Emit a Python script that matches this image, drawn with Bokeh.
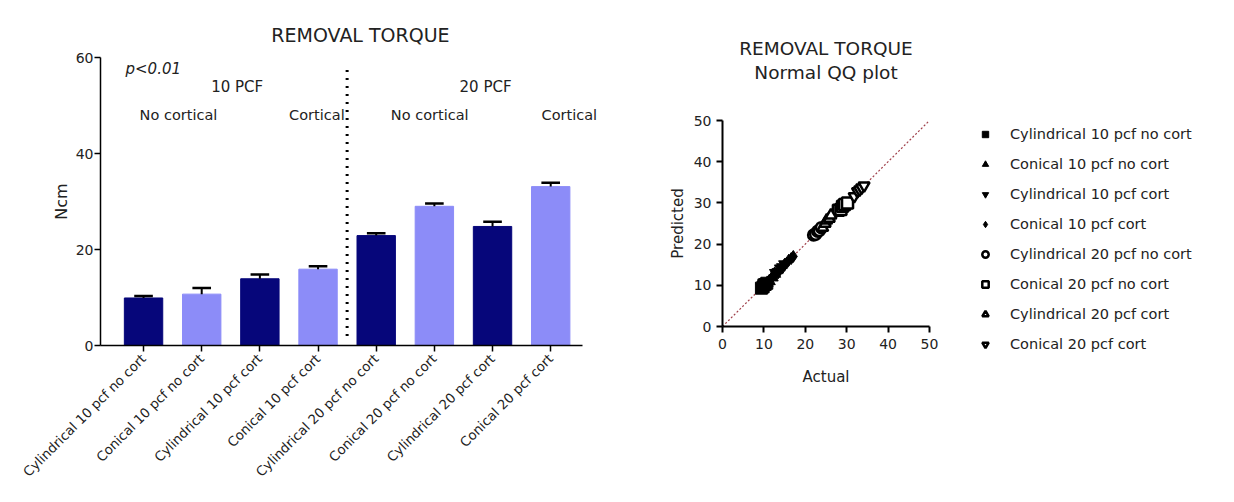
import math
from bokeh.plotting import figure
from bokeh.layouts import row, column
from bokeh.models import Range1d, FixedTicker, Legend, LegendItem, ColumnDataSource, Title
from bokeh.core.properties import value
from bokeh.embed import file_html
from bokeh.resources import INLINE

FONT = "DejaVu Sans"
TXT = "#222222"

# ---------------- data ----------------
groups = ["Cylindrical 10 pcf no cort", "Conical 10 pcf no cort", "Cylindrical 10 pcf cort",
          "Conical 10 pcf cort", "Cylindrical 20 pcf no cort", "Conical 20 pcf no cort",
          "Cylindrical 20 pcf cort", "Conical 20 pcf cort"]
means = [9.9, 10.7, 13.9, 15.9, 22.9, 29.0, 24.8, 33.1]
err_top = [10.3, 12.0, 14.8, 16.5, 23.4, 29.6, 25.8, 33.9]
bar_colors = ["#06067a", "#8c8cf8"] * 4

# QQ plot data (actual, predicted) per group
qq_actual = [
    [9.4, 9.8, 10.0, 10.3, 10.7],
    [10.2, 10.8, 11.3, 12.0, 12.6],
    [12.8, 13.4, 14.0, 14.5, 15.0],
    [15.0, 15.5, 16.0, 16.6, 17.1],
    [22.0, 22.5, 23.0, 23.4, 23.9],
    [28.0, 28.6, 29.0, 29.5, 30.2],
    [24.2, 24.8, 25.2, 25.8, 26.2],
    [31.8, 32.6, 33.1, 33.6, 34.2],
]
qq_pred = [
    [9.3, 9.6, 10.1, 10.2, 10.5],
    [10.0, 10.6, 11.0, 11.9, 12.8],
    [13.0, 13.2, 14.1, 14.4, 15.1],
    [15.1, 15.4, 16.1, 16.5, 17.0],
    [22.2, 22.4, 23.1, 23.3, 24.0],
    [28.2, 28.4, 29.2, 29.6, 30.0],
    [24.0, 25.0, 25.8, 26.2, 27.0],
    [31.6, 32.8, 33.2, 33.7, 34.2],
]
qq_markers = ["square", "triangle", "inverted_triangle", "diamond",
              "circle", "square", "triangle", "inverted_triangle"]
qq_filled = [True, True, True, True, False, False, False, False]

# annotation texts
chart_title = "REMOVAL TORQUE"
qq_subtitle = "Normal QQ plot"
group_labels = ["10 PCF", "20 PCF"]
group_label_x = [2.61, 6.88]
sub_labels = ["No cortical", "Cortical", "No cortical", "Cortical"]
sub_label_x = [1.6, 3.98, 5.92, 8.32]

# ---------------- left: bar chart ----------------
xs = list(range(1, len(groups) + 1))
p1 = figure(width=620, height=500, output_backend="svg", toolbar_location=None,
            x_range=Range1d(0.26, 9.2), y_range=Range1d(0, 60),
            min_border_left=100, min_border_right=0,
            min_border_top=57, min_border_bottom=155)
p1.outline_line_color = None
p1.grid.visible = False
p1.add_layout(Title(text=chart_title, align="center", text_font=FONT, text_font_size="19px",
                    text_font_style="normal", text_color=TXT, standoff=24), "above")

src = ColumnDataSource(dict(x=xs, top=means, color=bar_colors, err=err_top))
p1.vbar(x="x", top="top", width=0.66, fill_color="color", line_color="color", source=src)
p1.segment(x0="x", y0="top", x1="x", y1="err", line_color="black", line_width=2, source=src)
p1.segment(x0=[x - 0.16 for x in xs], y0=err_top, x1=[x + 0.16 for x in xs], y1=err_top,
           line_color="black", line_width=2.5)
# divider
p1.segment(x0=[4.5], y0=[2.0], x1=[4.5], y1=[58.5], line_color="black",
           line_width=3, line_dash="2 6")

p1.text(x=[0.69], y=[57.6], text=["p<0.01"], text_font=value(FONT), text_font_size="15px",
        text_font_style="italic", text_color=TXT, text_align="left", text_baseline="middle")
p1.text(x=group_label_x, y=[53.8] * 2, text=group_labels, text_font=value(FONT),
        text_font_size="15px", text_color=TXT, text_align="center", text_baseline="middle")
p1.text(x=sub_label_x, y=[48.0] * 4, text=sub_labels, text_font=value(FONT),
        text_font_size="14.5px", text_color=TXT, text_align="center", text_baseline="middle")

p1.xaxis.ticker = FixedTicker(ticks=xs)
p1.xaxis.major_label_overrides = {x: g for x, g in zip(xs, groups)}
p1.xaxis.major_label_orientation = math.pi / 4
p1.xaxis.bounds = (0.26, 8.55)
p1.yaxis.ticker = FixedTicker(ticks=[0, 20, 40, 60])
p1.yaxis.axis_label = "Ncm"
for ax in (p1.xaxis[0], p1.yaxis[0]):
    ax.axis_line_color = "black"
    ax.axis_line_width = 1.5
    ax.major_tick_line_color = "black"
    ax.major_tick_line_width = 1.5
    ax.major_tick_in = 0
    ax.major_tick_out = 6
    ax.minor_tick_line_color = None
    ax.major_label_text_font = FONT
    ax.major_label_text_font_size = "14px"
    ax.major_label_text_color = TXT
    ax.axis_label_text_font = FONT
    ax.axis_label_text_font_size = "16px"
    ax.axis_label_text_font_style = "normal"
    ax.axis_label_text_color = TXT
p1.xaxis.major_label_text_font_size = "13.3px"
p1.yaxis.major_label_standoff = 1
p1.yaxis.axis_label_standoff = 2

# ---------------- right: QQ plot ----------------
p2 = figure(width=612, height=500, output_backend="svg", toolbar_location=None,
            x_range=Range1d(-19.81, 123.19), y_range=Range1d(-17.96, 79.13),
            min_border_left=20, min_border_right=0,
            min_border_top=0, min_border_bottom=100)
p2.outline_line_color = None
p2.grid.visible = False

p2.text(x=[25, 25], y=[67.48, 61.65], text=[chart_title, qq_subtitle], text_font=value(FONT),
        text_font_size="18.5px", text_color=TXT, text_align="center", text_baseline="middle")

p2.line(x=[0, 50], y=[0, 50], line_color="#a0404a", line_width=1.2, line_dash="2 2")

items = []
for g, ax_, pr_, mk, filled in zip(groups, qq_actual, qq_pred, qq_markers, qq_filled):
    r = p2.scatter(x=ax_, y=pr_, marker=mk, size=12 if filled else 11,
                   fill_color="black" if filled else "white",
                   fill_alpha=1.0, line_color="black", line_width=2.5 if not filled else 1)
    items.append(LegendItem(label=g, renderers=[r]))

legend = Legend(items=items, location=(337, 48), orientation="vertical",
                label_text_font=FONT, label_text_font_size="14.5px", label_text_color=TXT,
                border_line_color=None, background_fill_alpha=0,
                glyph_width=16, glyph_height=16, label_height=16, spacing=14,
                label_standoff=17, margin=0, padding=0)
p2.add_layout(legend, "center")

p2.xaxis.ticker = FixedTicker(ticks=[0, 10, 20, 30, 40, 50])
p2.yaxis.ticker = FixedTicker(ticks=[0, 10, 20, 30, 40, 50])
p2.xaxis.bounds = (0, 50)
p2.yaxis.bounds = (0, 50)
p2.xaxis.fixed_location = 0
p2.yaxis.fixed_location = 0
p2.xaxis.axis_label = "Actual"
p2.yaxis.axis_label = "Predicted"
for ax in (p2.xaxis[0], p2.yaxis[0]):
    ax.axis_line_color = "black"
    ax.axis_line_width = 2
    ax.major_tick_line_color = "black"
    ax.major_tick_line_width = 2
    ax.major_tick_in = 0
    ax.major_tick_out = 6
    ax.minor_tick_line_color = None
    ax.major_label_text_font = FONT
    ax.major_label_text_font_size = "14px"
    ax.major_label_text_color = TXT
    ax.major_label_standoff = 5
    ax.axis_label_text_font = FONT
    ax.axis_label_text_font_size = "15px"
    ax.axis_label_text_font_style = "normal"
    ax.axis_label_text_color = TXT
    ax.axis_label_standoff = 6
p2.xaxis.major_label_standoff = 6
p2.xaxis.axis_label_standoff = 16
p2.yaxis.axis_label_standoff = 4

layout = row(p1, column(p2), spacing=0)
open("out.html", "w").write(file_html(layout, INLINE))
